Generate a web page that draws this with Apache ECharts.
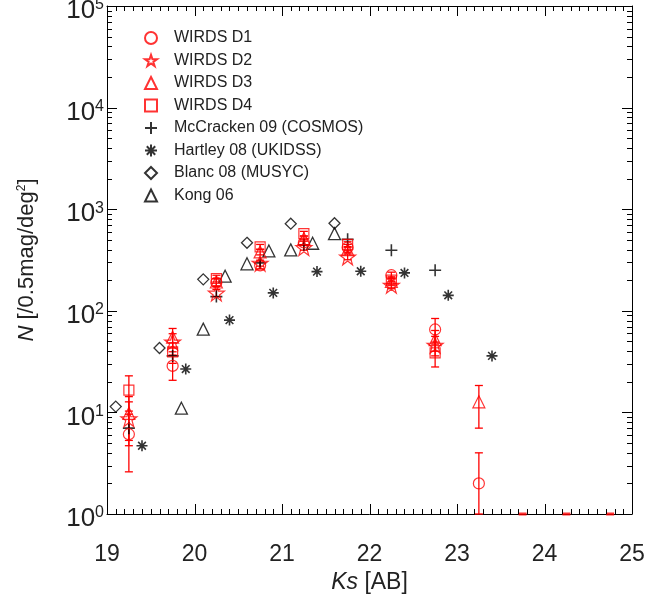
<!DOCTYPE html>
<html><head><meta charset="utf-8">
<script src="https://cdn.jsdelivr.net/npm/echarts@6/dist/echarts.min.js"></script>
<style>html,body{margin:0;padding:0;background:#fff}#c{width:672px;height:606px}</style>
</head><body><div id="c"></div>
<script>
// ---- data ----
const wirdsBins = [19.25, 19.75, 20.25, 20.75, 21.25, 21.75, 22.25, 22.75, 23.25];
const d1Values = [6.1, 28.7, 190, 280, 470, 420, 224, 65.5, 2.0];
const d1Errors = [3.5, 8, 16, 22, 30, 30, 16, 18.5, 2.0];
const d2Values = [8.7, 49.5, 150, 295, 420, 340, 179, 46];
const d2Errors = [4, 10, 12, 20, 25, 22, 14, 10];
const d3Values = [9.8, 55, 192, 380, 514, 400, 195, 52, 12.7];
const d3Errors = [4.5, 12, 16, 25, 30, 28, 16, 12, 5.7];
const d4Values = [16.6, 39.4, 208, 425, 575, 450, 200, 38.6];
const d4Errors = [6.3, 9, 16, 25, 30, 28, 16, 10.6];
const zeroBins = [23.75, 24.25, 24.75];
const mcBins = [19.25, 19.75, 20.25, 20.75, 21.25, 21.75, 22.25, 22.75];
const mcValues = [7.0, 36, 138, 295, 447, 505, 394, 251];
const hartleyBins = [19.4, 19.9, 20.4, 20.9, 21.4, 21.9, 22.4, 22.9, 23.4];
const hartleyValues = [4.7, 26.7, 81, 150, 243, 245, 236, 142, 36];
const blancBins = [19.1, 19.6, 20.1, 20.6, 21.1, 21.6];
const blancValues = [11.4, 43, 204, 467, 720, 727];
const kongBins = [19.85, 20.1, 20.35, 20.6, 20.85, 21.1, 21.35, 21.6];
const kongValues = [11, 66, 219, 290, 388, 398, 462, 575];
const xMajorTicks = [19, 20, 21, 22, 23, 24, 25];
const yMajorTicks = [1, 10, 100, 1000, 10000, 100000];

// ---- helpers ----
const FONT = '"Liberation Sans", Arial, Helvetica, sans-serif';
const RED = '#ff0000';
const X0 = xMajorTicks[0], X1 = xMajorTicks[xMajorTicks.length - 1];
const Y0 = yMajorTicks[0], Y1 = yMajorTicks[yMajorTicks.length - 1];
const zip = (xs, ys) => xs.map((x, i) => [x, ys[i]]);
const errData = (xs, ys, es) => xs.map((x, i) => [x, ys[i] - es[i], ys[i] + es[i]]);

// tick positions (major = labelled values, minor = subdivisions)
const xMinorTicks = [];
xMajorTicks.slice(0, -1).forEach(t => { for (let k = 1; k < 10; k++) xMinorTicks.push(+(t + k / 10).toFixed(1)); });
const yMinorTicks = [];
yMajorTicks.slice(0, -1).forEach(t => { for (let k = 2; k <= 9; k++) yMinorTicks.push(k * t); });

const STAR = 'path://M50,0L61.8,35.1L98.1,35.1L68.8,56.7L79.4,90.5L50,69.1L20.6,90.5L31.2,56.7L1.9,35.1L38.2,35.1Z';
const PLUS = 'path://M0,5L10,5M5,0L5,10';
const AST = 'path://M0,5L10,5M5,0L5,10M1.5,1.5L8.5,8.5M1.5,8.5L8.5,1.5';

function hollow(color, w) { return { color: 'transparent', borderColor: color, borderWidth: w }; }

function errSeries(name, xs, ys, es) {
  return {
    type: 'custom', name: name + ' err', xAxisIndex: 0, yAxisIndex: 0,
    data: errData(xs, ys, es), encode: { x: 0, y: [1, 2] }, silent: true, z: 3,
    renderItem: function (params, api) {
      const x = api.value(0);
      const lo = Math.max(api.value(1), Y0);
      const hi = api.value(2);
      const a = api.coord([x, lo]);
      const b = api.coord([x, hi]);
      const w = 4;
      const st = () => ({ stroke: RED, lineWidth: 1.3 });
      return { type: 'group', children: [
        { type: 'line', shape: { x1: a[0], y1: a[1], x2: b[0], y2: b[1] }, style: st() },
        { type: 'line', shape: { x1: a[0] - w, y1: a[1], x2: a[0] + w, y2: a[1] }, style: st() },
        { type: 'line', shape: { x1: b[0] - w, y1: b[1], x2: b[0] + w, y2: b[1] }, style: st() }
      ] };
    }
  };
}

function scatter(name, data, symbol, size, style, z) {
  return { type: 'scatter', name: name, data: data, symbol: symbol, symbolSize: size,
    itemStyle: style, xAxisIndex: 0, yAxisIndex: 0, z: z || 4, emphasis: { disabled: true } };
}

const ls = () => ({ color: '#000', width: 1 });
const mkLine = () => ({ show: true, onZero: false, lineStyle: ls() });
const chart = echarts.init(document.getElementById('c'), null, { renderer: 'canvas' });

chart.setOption({
  animation: false,
  grid: { left: 107, right: 40, top: 6, bottom: 92, outerBoundsMode: 'none' },
  legend: {
    orient: 'vertical', left: 144, top: 30, padding: 0,
    itemWidth: 12, itemHeight: 12, itemGap: 6.5,
    selectedMode: false,
    textStyle: { fontFamily: FONT, fontSize: 16, color: '#222', lineHeight: 12, padding: [0, 0, 0, 12] },
    data: ['WIRDS D1', 'WIRDS D2', 'WIRDS D3', 'WIRDS D4', 'McCracken 09 (COSMOS)',
      'Hartley 08 (UKIDSS)', 'Blanc 08 (MUSYC)', 'Kong 06']
  },
  xAxis: [
    { type: 'value', min: X0, max: X1, interval: 1, position: 'bottom',
      axisLine: mkLine(), splitLine: { show: false }, axisTick: { show: false },
      axisLabel: { fontFamily: FONT, fontSize: 23, color: '#222', margin: 29 },
      name: '{i|Ks} [AB]', nameLocation: 'middle', nameGap: 57,
      nameTextStyle: { fontFamily: FONT, fontSize: 23, color: '#222',
        rich: { i: { fontFamily: FONT, fontSize: 23, fontStyle: 'italic', color: '#222' } } } },
    { type: 'value', min: X0, max: X1, interval: 1, position: 'top',
      axisLine: mkLine(), splitLine: { show: false }, axisTick: { show: false },
      axisLabel: { show: false } }
  ],
  yAxis: [
    { type: 'log', logBase: 10, min: Y0, max: Y1, position: 'left',
      axisLine: mkLine(), splitLine: { show: false }, axisTick: { show: false },
      axisLabel: { margin: 3, padding: [10, 0, 0, 0],
        formatter: v => '{b|10}{s|' + Math.round(Math.log10(v)) + '}',
        rich: { b: { fontFamily: FONT, fontSize: 26, color: '#222', lineHeight: 28 },
                s: { fontFamily: FONT, fontSize: 16, color: '#222', verticalAlign: 'top', lineHeight: 16 } } },
      name: '{i|N} [/0.5mag/deg{s|2}]', nameLocation: 'middle', nameGap: 69, nameRotate: 90,
      nameTextStyle: { fontFamily: FONT, fontSize: 22, color: '#222',
        rich: { i: { fontFamily: FONT, fontSize: 22, fontStyle: 'italic', color: '#222' },
                s: { fontFamily: FONT, fontSize: 12, color: '#222', verticalAlign: 'top' } } } },
    { type: 'log', logBase: 10, min: Y0, max: Y1, position: 'right',
      axisLine: mkLine(), splitLine: { show: false }, axisTick: { show: false },
      axisLabel: { show: false } }
  ],
  series: [
    scatter('Kong 06', zip(kongBins, kongValues), 'triangle', 12, hollow('#000', 1.3)),
    scatter('Blanc 08 (MUSYC)', zip(blancBins, blancValues), 'diamond', 11, hollow('#000', 1.3)),
    scatter('Hartley 08 (UKIDSS)', zip(hartleyBins, hartleyValues), AST, 11, hollow('#000', 1.6)),
    scatter('McCracken 09 (COSMOS)', zip(mcBins, mcValues), PLUS, 12, hollow('#000', 1.6)),
    errSeries('WIRDS D1', wirdsBins, d1Values, d1Errors),
    errSeries('WIRDS D2', wirdsBins.slice(0, 8), d2Values, d2Errors),
    errSeries('WIRDS D3', wirdsBins, d3Values, d3Errors),
    errSeries('WIRDS D4', wirdsBins.slice(0, 8), d4Values, d4Errors),
    scatter('WIRDS D1', zip(wirdsBins, d1Values), 'circle', 11, hollow(RED, 1.2), 5),
    scatter('WIRDS D2', zip(wirdsBins.slice(0, 8), d2Values), STAR, 16, hollow(RED, 1.2), 5),
    scatter('WIRDS D3', zip(wirdsBins, d3Values), 'triangle', 12, hollow(RED, 1.2), 5),
    scatter('WIRDS D4', zip(wirdsBins.slice(0, 8), d4Values), 'rect', 10, hollow(RED, 1.2), 5),
    scatter('zero bins', zeroBins.map(x => [x, Y0]), 'rect', [8, 3], { color: RED }, 5)
  ]
});

// inward ticks on all four sides, positioned through the chart's own axis scales
const px = (x, y) => chart.convertToPixel({ xAxisIndex: 0, yAxisIndex: 0 }, [x, y]);
const tickEls = [];
const addLine = (x1, y1, x2, y2) => tickEls.push({
  type: 'line', silent: true, z: 100,
  shape: { x1: x1, y1: y1, x2: x2, y2: y2 }, style: { stroke: '#000', lineWidth: 1 }
});
const yBottom = px(X0, Y0)[1], yTop = px(X0, Y1)[1];
const xLeft = px(X0, Y0)[0], xRight = px(X1, Y0)[0];
function xTick(v, len) {
  const x = Math.round(px(v, Y0)[0]) + 0.5;
  addLine(x, yBottom, x, yBottom - len);
  addLine(x, yTop, x, yTop + len);
}
function yTick(v, len) {
  const y = Math.round(px(X0, v)[1]) + 0.5;
  addLine(xLeft, y, xLeft + len, y);
  addLine(xRight, y, xRight - len, y);
}
xMajorTicks.forEach(v => xTick(v, 10));
xMinorTicks.forEach(v => xTick(v, 5));
yMajorTicks.forEach(v => yTick(v, 10));
yMinorTicks.forEach(v => yTick(v, 5));
chart.setOption({ graphic: { elements: tickEls } });
</script>
</body></html>
